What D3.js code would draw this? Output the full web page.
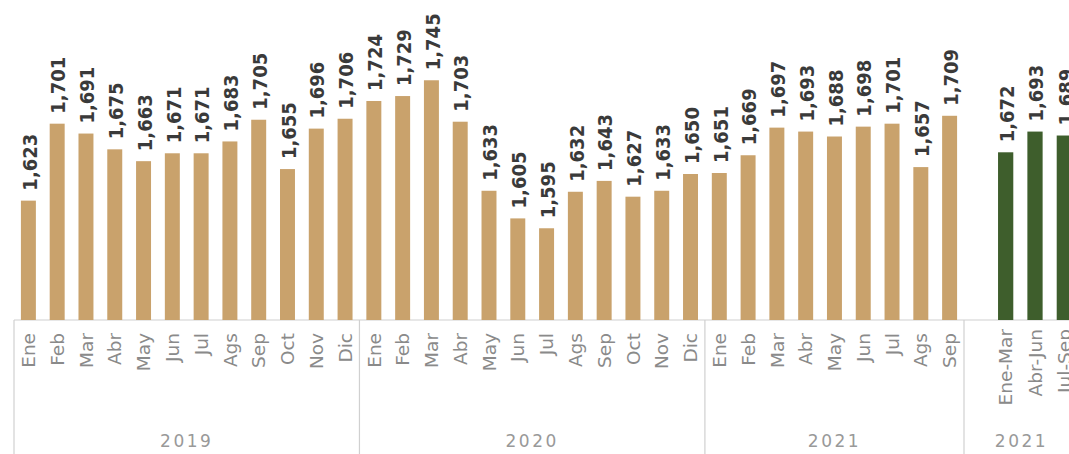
<!DOCTYPE html>
<html>
<head>
<meta charset="utf-8">
<script src="https://cdn.jsdelivr.net/npm/d3@7"></script>
<style>
  body { margin: 0; background: #fff; }
  .val { font-family: "DejaVu Sans Condensed", "DejaVu Sans", sans-serif; font-weight: bold; fill: #3a3a3a; }
  .mon { font-family: "DejaVu Sans", sans-serif; fill: #8a8a8a; }
  .year { font-family: "DejaVu Sans", sans-serif; fill: #999; }
</style>
</head>
<body>
<script>
// monthly values, Ene 2019 .. Sep 2021
let months = ["Ene","Feb","Mar","Abr","May","Jun","Jul","Ags","Sep","Oct","Nov","Dic"]
let years = ["2019", "2020", "2021"]
let monthValues = [
  1623, 1701, 1691, 1675, 1663, 1671, 1671, 1683, 1705, 1655, 1696, 1706,   // 2019
  1724, 1729, 1745, 1703, 1633, 1605, 1595, 1632, 1643, 1627, 1633, 1650,   // 2020
  1651, 1669, 1697, 1693, 1688, 1698, 1701, 1657, 1709                      // 2021
]
// quarterly values 2021
let quarters = ["Ene-Mar", "Abr-Jun", "Jul-Sep"]
let quarterValues = [1672, 1693, 1689]
let quarterYear = "2021"

let width = 1069
let height = 454
let baseY = 320

let svg = d3.select('body')
    .append('svg')
    .attr('width', width)
    .attr('height', height)

// one key per month so the band scale can hold all 33 bars
let monthKeys = monthValues.map((d, i) => years[Math.floor(i / 12)] + "-" + months[i % 12])

let xScale = d3.scaleBand()
    .domain(monthKeys)
    .range([14, 964])
    .paddingInner(0.48)
    .paddingOuter(0.24)

let qScale = d3.scaleBand()
    .domain(quarters)
    .range([991, 1079])
    .paddingInner(0.48)
    .paddingOuter(0.24)

let yScale = d3.scaleLinear()
    .domain([1500, 1800])
    .range([322, 26])

// label box: top line and group separators
svg.append('line')
    .attr('x1', 14).attr('x2', width)
    .attr('y1', baseY).attr('y2', baseY)
    .attr('stroke', '#d0d0d0').attr('stroke-width', 1.2)

let groupEdges = [14]
years.forEach((y, yi) => {
    let keys = monthKeys.filter(k => k.startsWith(y))
    let last = keys[keys.length - 1]
    groupEdges.push(xScale(last) + xScale.bandwidth() + xScale.step() * xScale.paddingInner() / 2)
})

svg.selectAll('.sep')
    .data(groupEdges)
    .enter().append('line')
    .attr('class', 'sep')
    .attr('x1', d => d).attr('x2', d => d)
    .attr('y1', baseY).attr('y2', height)
    .attr('stroke', '#d0d0d0').attr('stroke-width', 1.2)

// monthly bars
svg.selectAll('.bar')
    .data(monthValues)
    .enter().append('rect')
    .attr('class', 'bar')
    .attr('x', (d, i) => xScale(monthKeys[i]))
    .attr('y', d => yScale(d))
    .attr('width', xScale.bandwidth())
    .attr('height', d => baseY - yScale(d))
    .attr('fill', '#c9a26c')

// quarterly bars
svg.selectAll('.qbar')
    .data(quarterValues)
    .enter().append('rect')
    .attr('class', 'qbar')
    .attr('x', (d, i) => qScale(quarters[i]))
    .attr('y', d => yScale(d))
    .attr('width', qScale.bandwidth())
    .attr('height', d => baseY - yScale(d))
    .attr('fill', '#3e5e2c')

let fmt = d3.format(",")

function valueLabel(sel, cx) {
    sel.attr('class', 'val')
        .attr('transform', (d, i) => 'translate(' + (cx(i) + 1) + ',' + (yScale(d) - 10) + ') rotate(-90)')
        .attr('dy', '0.36em')
        .attr('font-size', 20)
        .text(d => fmt(d))
}

svg.selectAll('.mval')
    .data(monthValues)
    .enter().append('text')
    .call(valueLabel, i => xScale(monthKeys[i]) + xScale.bandwidth() / 2)

svg.selectAll('.qval')
    .data(quarterValues)
    .enter().append('text')
    .call(valueLabel, i => qScale(quarters[i]) + qScale.bandwidth() / 2)

// month tick labels
svg.selectAll('.mon')
    .data(monthKeys)
    .enter().append('text')
    .attr('class', 'mon')
    .attr('transform', d => 'translate(' + (xScale(d) + xScale.bandwidth() / 2) + ',' + (baseY + 13) + ') rotate(-90)')
    .attr('text-anchor', 'end')
    .attr('dy', '0.36em')
    .attr('font-size', 18.5)
    .text(d => d.split("-")[1])

svg.selectAll('.qmon')
    .data(quarters)
    .enter().append('text')
    .attr('class', 'mon')
    .attr('transform', d => 'translate(' + (qScale(d) + qScale.bandwidth() / 2) + ',' + (baseY + 9) + ') rotate(-90)')
    .attr('text-anchor', 'end')
    .attr('dy', '0.36em')
    .attr('font-size', 18.5)
    .text(d => d)

// year labels
let yearPos = years.map((y, i) => (groupEdges[i] + groupEdges[i + 1]) / 2)
yearPos.push((groupEdges[3] + 1079) / 2)

svg.selectAll('.year')
    .data(years.concat([quarterYear]))
    .enter().append('text')
    .attr('class', 'year')
    .attr('x', (d, i) => yearPos[i])
    .attr('y', 447)
    .attr('text-anchor', 'middle')
    .attr('font-size', 17)
    .attr('letter-spacing', 2.5)
    .text(d => d)
</script>
</body>
</html>
